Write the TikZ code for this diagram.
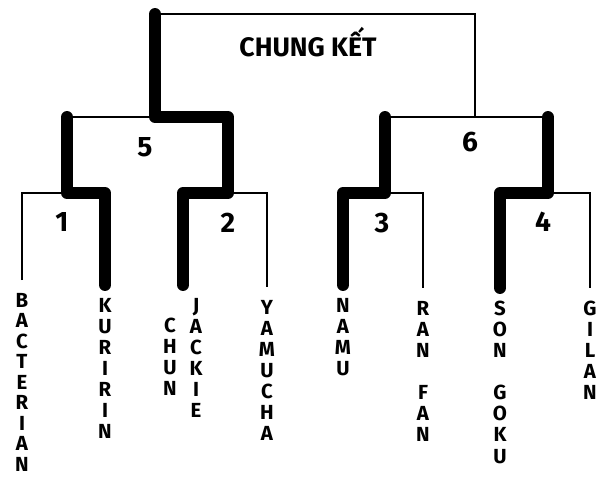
\documentclass[tikz,border=0pt]{standalone}
\usepackage{fontspec}
\setmainfont{Fira Sans}
\usepackage{tikz}
\usetikzlibrary{positioning, calc}

\begin{document}
\begin{tikzpicture}[
    x=0.025cm, y=-0.025cm,
    player/.style={anchor=north, inner xsep=0pt, inner ysep=9pt, align=center, font=\fontsize{14.5}{15}\selectfont\bfseries},
    matchno/.style={font=\fontsize{20}{22}\selectfont\bfseries},
    title/.style={font=\fontsize{19}{22}\selectfont\bfseries},
    lose/.style={line width=1.4pt},
    win/.style={line width=8.5pt, line cap=round, line join=round},
]
\useasboundingbox (0,0) rectangle (599,481);

% players
\node[player, font=\fontsize{14.5}{14.6}\selectfont\bfseries] (bacterian) at (22,280)  {B\\A\\C\\T\\E\\R\\I\\A\\N};
\node[player] (kuririn)   at (105,285) {K\\U\\R\\I\\R\\I\\N};
\node[player] (chun)      at (170,305) {C\\H\\U\\N};
\node[player] (jackie)    at (196,285) {J\\A\\C\\K\\I\\E};
\node[player] (yamucha)   at (267,287) {Y\\A\\M\\U\\C\\H\\A};
\node[player] (namu)      at (343,285) {N\\A\\M\\U};
\node[player] (ranfan)    at (423,288) {R\\A\\N\\[15pt]F\\A\\N};
\node[player] (songoku)   at (500,288) {S\\O\\N\\[15pt]G\\O\\K\\U};
\node[player] (gilan)     at (590,288) {G\\I\\L\\A\\N};
\coordinate (jackiechun) at (183,285);

% junctions
\coordinate (m1) at (67,193);
\coordinate (m2) at (228,193);
\coordinate (m3) at (385,193);
\coordinate (m4) at (548,193);
\coordinate (s5a) at (67,117);
\coordinate (s5b) at (228,117);
\coordinate (s6a) at (385,117);
\coordinate (s6b) at (548,117);
\coordinate (m5) at (155,117);
\coordinate (m6) at (475,117);
\coordinate (fa) at (155,14);
\coordinate (fb) at (475,14);

% labels
\node[title] (final) at (308,42) {CHUNG KẾT};
\node[matchno] (n1) at (62,222) {1};
\node[matchno] (n2) at (228,223) {2};
\node[matchno] (n3) at (382,223) {3};
\node[matchno] (n4) at (543,222) {4};
\node[matchno] (n5) at (145,147) {5};
\node[matchno] (n6) at (470,142) {6};

% bracket
\draw[lose] (bacterian.north) |- (m1);
\draw[lose] (m2) -| (yamucha.north);
\draw[lose] (m3) -| (ranfan.north);
\draw[lose] (m4) -| (gilan.north);
\draw[lose] (s5a) -- (s5b);
\draw[lose] (s6a) -- (s6b);
\draw[lose] (m5) -- (fa) -- (fb) -- (m6);

% winners
\draw[win] (kuririn.north) |- (m1) -- (s5a);
\draw[win] (jackiechun) |- (m2) -- (s5b) -- (m5) -- (fa);
\draw[win] (namu.north) |- (m3) -- (s6a);
\draw[win] (songoku.north) |- (m4) -- (s6b);
\end{tikzpicture}
\end{document}
